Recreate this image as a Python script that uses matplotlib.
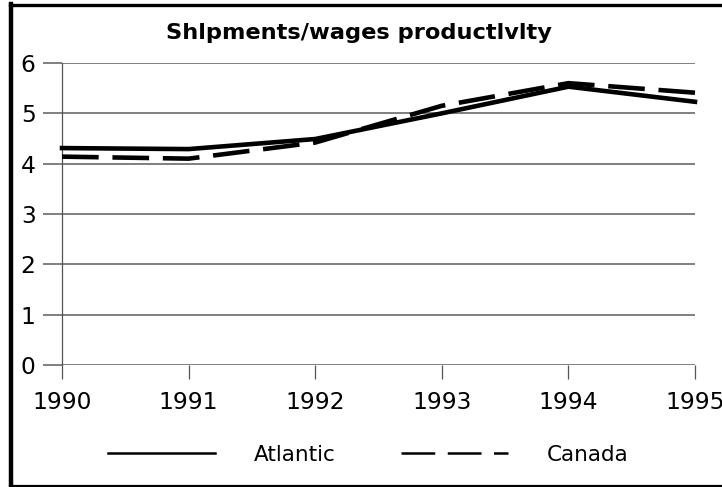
import matplotlib
matplotlib.use('Agg')
import matplotlib.pyplot as plt
from matplotlib.lines import Line2D

# Data
years = [1990, 1991, 1992, 1993, 1994, 1995]
atlantic = [4.31, 4.29, 4.49, 5.00, 5.53, 5.23]
canada = [4.14, 4.10, 4.42, 5.15, 5.60, 5.41]
yticks = [0, 1, 2, 3, 4, 5, 6]

fig = plt.figure(figsize=(7.22, 4.87), dpi=100)
ax = fig.add_axes([0.0859, 0.2505, 0.8767, 0.6201])

ax.plot(years, atlantic, color='black', lw=3.3, solid_joinstyle='miter',
        label='Atlantic', clip_on=False, zorder=3)
ax.plot(years, canada, color='black', lw=3.3, linestyle=(0, (8.0, 3.0)),
        label='Canada', clip_on=False, zorder=3)

ax.set_xlim(1990, 1995)
ax.set_ylim(0, 6)
ax.set_xticks(years)
ax.set_yticks(yticks)
ax.yaxis.grid(True, color='#7f7f7f', lw=1.4)
ax.set_axisbelow(True)

for s in ['top', 'right', 'bottom']:
    ax.spines[s].set_visible(False)
ax.spines['left'].set_color('#555555')
ax.spines['left'].set_linewidth(0.9)

ax.tick_params(axis='y', length=13.5, width=1.4, color='#7f7f7f', pad=5.5,
               labelsize=16.8)
ax.tick_params(axis='x', length=10, width=0.9, color='#555555', pad=8.5,
               labelsize=16.8)

fig.text(0.497, 1 - 33 / 487, 'Shlpments/wages productlvlty', ha='center',
         va='center', fontsize=16.2, fontweight='bold')

leg = ax.legend(loc='center', bbox_to_anchor=(0.51, 1 - 455 / 487),
                bbox_transform=fig.transFigure, ncol=2, frameon=False,
                fontsize=15.5, handlelength=5.0, handletextpad=1.8,
                columnspacing=3.0)
leg.get_lines()[0].set_linewidth(1.8)
leg.get_lines()[1].set_linewidth(1.8)
leg.get_lines()[1].set_linestyle((0, (13.5, 5.0)))

# frame around the chart (right side runs off the image)
fig.add_artist(Line2D([11 / 722, 11 / 722], [1 - 4 / 487, 1 - 486 / 487],
                      color='black', lw=3.2, transform=fig.transFigure))
fig.add_artist(Line2D([9.5 / 722, 1.0], [1 - 5 / 487, 1 - 5 / 487],
                      color='black', lw=2.4, transform=fig.transFigure))
fig.add_artist(Line2D([9.5 / 722, 1.0], [1 - 485.5 / 487, 1 - 485.5 / 487],
                      color='black', lw=1.6, transform=fig.transFigure))

plt.savefig('out.png', dpi=100)
